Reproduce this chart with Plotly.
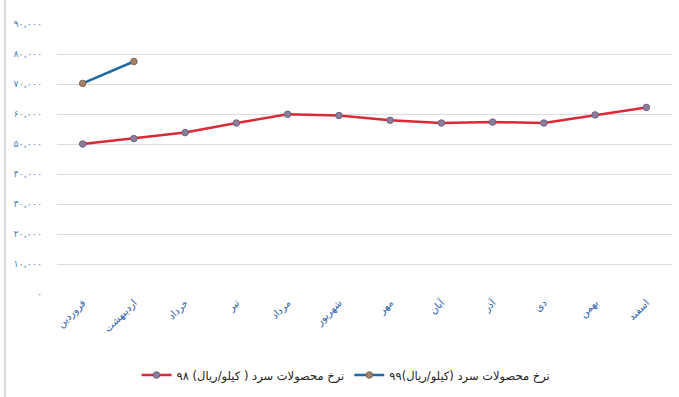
import plotly.graph_objects as go

months = ["فروردین", "اردیبهشت", "خرداد", "تیر", "مرداد", "شهریور",
          "مهر", "آبان", "آذر", "دی", "بهمن", "اسفند"]
rate_98 = [50000, 51800, 53800, 57000, 59900, 59500, 57900, 57000, 57300, 57000, 59700, 62200]
rate_99 = [70200, 77500]
name_98 = "نرخ محصولات سرد ( کیلو/ریال) ۹۸"
name_99 = "نرخ محصولات سرد (کیلو/ریال)۹۹"
ytick_vals = [0, 10000, 20000, 30000, 40000, 50000, 60000, 70000, 80000, 90000]
ytick_text = ["۰", "۱۰,۰۰۰", "۲۰,۰۰۰", "۳۰,۰۰۰", "۴۰,۰۰۰", "۵۰,۰۰۰",
              "۶۰,۰۰۰", "۷۰,۰۰۰", "۸۰,۰۰۰", "۹۰,۰۰۰"]

fig = go.Figure()
fig.add_trace(go.Scatter(
    x=months, y=rate_98, name=name_98, mode="lines+markers",
    line=dict(color="#d92a35", width=2.5),
    marker=dict(size=6.5, color="#8c7d9c", line=dict(color="#6f6282", width=1)),
))
fig.add_trace(go.Scatter(
    x=months[:len(rate_99)], y=rate_99, name=name_99, mode="lines+markers",
    line=dict(color="#1f6aa5", width=2.5),
    marker=dict(size=6.5, color="#a3826a", line=dict(color="#7d6350", width=1)),
))

fig.update_layout(
    width=679, height=397,
    margin=dict(l=57, r=7, t=24, b=101),
    paper_bgcolor="white", plot_bgcolor="white",
    font=dict(family="DejaVu Sans, Noto Sans", size=9, color="#333333"),
    showlegend=True,
    legend=dict(orientation="h", x=0.47, xanchor="center", y=-0.30, yanchor="middle",
                font=dict(size=11.5, color="#222222"), itemwidth=30, traceorder="normal"),
    xaxis=dict(
        type="category", categoryorder="array", categoryarray=months,
        range=[-0.5, len(months) - 0.5],
        tickangle=-45, showgrid=False, showline=False, zeroline=False,
        ticks="", tickfont=dict(size=10, color="#2c62b0"), automargin=False,
    ),
    yaxis=dict(
        range=[0, 90000], tickvals=ytick_vals, ticktext=ytick_text,
        showgrid=True, gridcolor="#dcdcdc", gridwidth=1, zeroline=False,
        showline=False, ticks="", ticklabelstandoff=14, automargin=False,
        tickfont=dict(size=9.5, color="#4f81bd"),
    ),
    shapes=[dict(type="line", xref="paper", yref="paper",
                 x0=-0.0846, x1=-0.0846, y0=-0.4, y1=1.1,
                 line=dict(color="#cfcfcf", width=1.5))],
)

fig.write_html("out.html")
